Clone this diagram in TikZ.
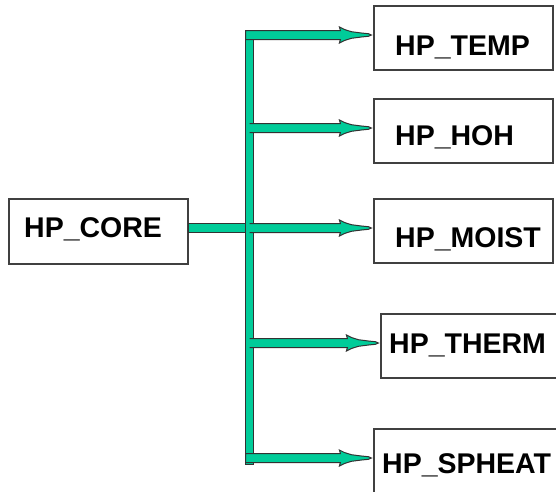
\documentclass[tikz,border=0pt]{standalone}
\usepackage{fontspec}
\setmainfont{Liberation Sans}
\usetikzlibrary{calc}
\definecolor{flow}{RGB}{0,204,153}
\definecolor{edge}{RGB}{50,50,50}
\definecolor{boxline}{RGB}{64,64,64}
\tikzset{
  box/.style={draw=boxline, line width=1.2pt, fill=white, inner sep=0pt, minimum height=64pt},
  lbl/.style={anchor=base west, inner sep=0pt, font=\fontsize{28.5}{30}\selectfont\bfseries},
  flowbody/.style={fill=flow, draw=edge, line width=1pt, line join=miter},
}
% #1 start x (coordinate), #2 target node, #3 'cycle' or empty
\newcommand\fatarrow[3]{%
  \filldraw[flowbody] let \p1=(#1), \p2=($(#2.west)+(-2,-3)$) in
    (\x1,\y2+4.5pt) -- (\x2-31pt,\y2+4.5pt) -- (\x2-32pt,\y2+8pt) -- (\x2-27pt,\y2+5.5pt)
    -- (\x2-20pt,\y2+3.3pt) -- (\x2-10pt,\y2+2pt) -- (\x2-3pt,\y2+1.3pt) -- (\x2,\y2)
    -- (\x2-3pt,\y2-1.3pt) -- (\x2-10pt,\y2-2pt) -- (\x2-20pt,\y2-3.3pt) -- (\x2-27pt,\y2-5.5pt)
    -- (\x2-32pt,\y2-8pt) -- (\x2-31pt,\y2-4.5pt) -- (\x1,\y2-4.5pt) #3;}
\begin{document}
\begin{tikzpicture}[x=1pt,y=-1pt]
\useasboundingbox (0,0) rectangle (556,491);
\clip (0,0) rectangle (556,491);
\fill[white] (0,0) rectangle (556,491);
% boxes
\node[box, minimum width=179pt, minimum height=65pt] (core) at (98.5,231.5) {};
\node[box, minimum width=179pt] (temp) at (463.5,38) {};
\node[box, minimum width=179pt] (hoh) at (463.5,131) {};
\node[box, minimum width=179pt] (moist) at (463.5,231) {};
\node[box, minimum width=179pt] (therm) at (470.5,346) {};
\node[box, minimum width=185pt] (spheat) at (466.5,461) {};
% labels
\node[lbl] (coreT) at (24,237) {HP\_CORE};
\node[lbl] (tempT) at (395,55) {HP\_TEMP};
\node[lbl] (hohT) at (395,145) {HP\_HOH};
\node[lbl] (moistT) at (395,247) {HP\_MOIST};
\node[lbl] (thermT) at (389,353) {HP\_THERM};
\node[lbl] (spheatT) at (382,473) {HP\_SPHEAT};
% bus
\coordinate (busL) at (245.5,0);
\coordinate (busC) at (249.5,0);
\filldraw[flowbody] let \p1=($(core.east)+(0,-3.5)$) in (\x1,\y1+4.5pt) rectangle (249.5pt,\y1-4.5pt);
\filldraw[flowbody] (245.5,30.5) rectangle (253.5,464.5);
% branches
\fatarrow{busL}{temp}{-- cycle}
\fatarrow{busC}{hoh}{}
\fatarrow{busC}{moist}{}
\fatarrow{busC}{therm}{}
\fatarrow{busL}{spheat}{-- cycle}
\end{tikzpicture}
\end{document}
